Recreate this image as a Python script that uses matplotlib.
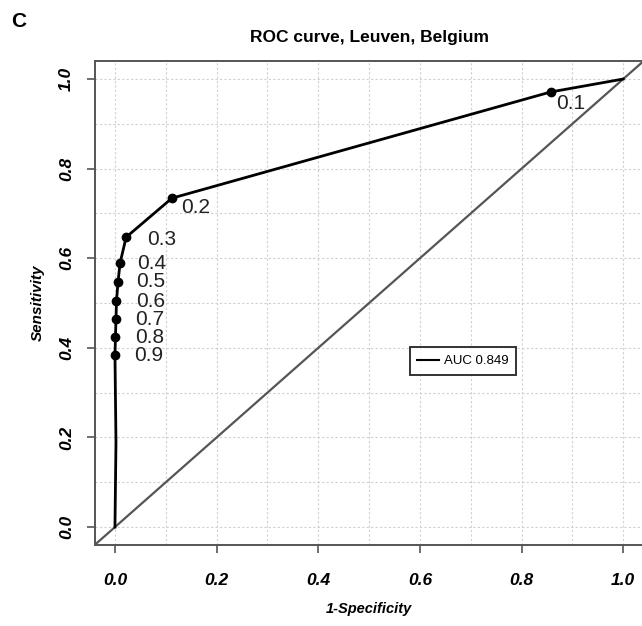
import matplotlib
matplotlib.use("Agg")
import matplotlib.pyplot as plt

plt.rcParams['font.family'] = ['Liberation Sans', 'DejaVu Sans']

# ROC points (1-specificity, sensitivity) labelled by cut-off threshold
thresholds = ["0.1", "0.2", "0.3", "0.4", "0.5", "0.6", "0.7", "0.8", "0.9"]
fpr_pts = [0.857, 0.112, 0.022, 0.010, 0.006, 0.003, 0.002, 0.001, 0.0]
tpr_pts = [0.971, 0.734, 0.647, 0.589, 0.547, 0.504, 0.464, 0.424, 0.384]

# full curve = (1,1) -> threshold points -> bottom tail -> (0,0)
curve_fpr = [1.0] + fpr_pts + [0.002, 0.0]
curve_tpr = [1.0] + tpr_pts + [0.19, 0.0]

auc_label = "AUC 0.849"

# label offsets in points (style only)
label_offsets = [(4, -8), (7, -7), (15, -2), (12, 0), (13, 0),
                 (14, 0), (14, 0), (14, 0), (14, 0)]

fig = plt.figure(figsize=(6.42, 6.26), dpi=100)
ax = fig.add_axes([0.1474, 0.1294, 0.855, 0.773])

ax.set_xlim(-0.04, 1.04)
ax.set_ylim(-0.04, 1.04)

# dotted grid every 0.1
for v in [i / 10 for i in range(11)]:
    ax.axvline(v, color='#d0d0d0', lw=0.8, ls=(0, (2, 2)), zorder=0)
    ax.axhline(v, color='#d0d0d0', lw=0.8, ls=(0, (2, 2)), zorder=0)

ax.axline((0, 0), (1, 1), color='#555555', lw=1.6, zorder=1)

ax.plot(curve_fpr, curve_tpr, color='black', lw=2.0, zorder=2,
        label=auc_label)
ax.plot(fpr_pts, tpr_pts, 'o', color='black', ms=6, zorder=3)

for t, x, y, off in zip(thresholds, fpr_pts, tpr_pts, label_offsets):
    ax.annotate(t, (x, y), xytext=off, textcoords='offset points',
                ha='left', va='center', fontsize=15, color='#222222')

ticks = [0.0, 0.2, 0.4, 0.6, 0.8, 1.0]
ax.set_xticks(ticks)
ax.set_yticks(ticks)
ax.set_xticklabels([f"{t:.1f}" for t in ticks], fontweight='bold',
                   fontstyle='italic', fontsize=12.5)
ax.set_yticklabels([f"{t:.1f}" for t in ticks], fontweight='bold',
                   fontstyle='italic', fontsize=12.5, rotation=90,
                   va='center')
ax.tick_params(direction='out', length=6, width=1.2, color='#555555')
ax.tick_params(axis='x', pad=14)
ax.tick_params(axis='y', pad=9)

for s in ax.spines.values():
    s.set_color('#555555')
    s.set_linewidth(1.4)

ax.set_xlabel("1-Specificity", fontweight='bold', fontstyle='italic',
              fontsize=10.5, labelpad=10)
ax.set_ylabel("Sensitivity", fontweight='bold', fontstyle='italic',
              fontsize=11, labelpad=10)
ax.set_title("ROC curve, Leuven, Belgium", fontweight='bold',
             fontsize=12.5, pad=14)

leg = ax.legend(loc='center', bbox_to_anchor=(0.671, 0.38), fontsize=9.5,
                frameon=True, fancybox=False, handlelength=1.6,
                borderpad=0.6, handletextpad=0.4)
leg.get_frame().set_edgecolor('black')
leg.get_frame().set_linewidth(1.4)
leg.get_lines()[0].set_linewidth(1.5)

fig.text(0.018, 0.965, "C", fontweight='bold', fontsize=15, va='center')

fig.savefig("out.png", dpi=100)
